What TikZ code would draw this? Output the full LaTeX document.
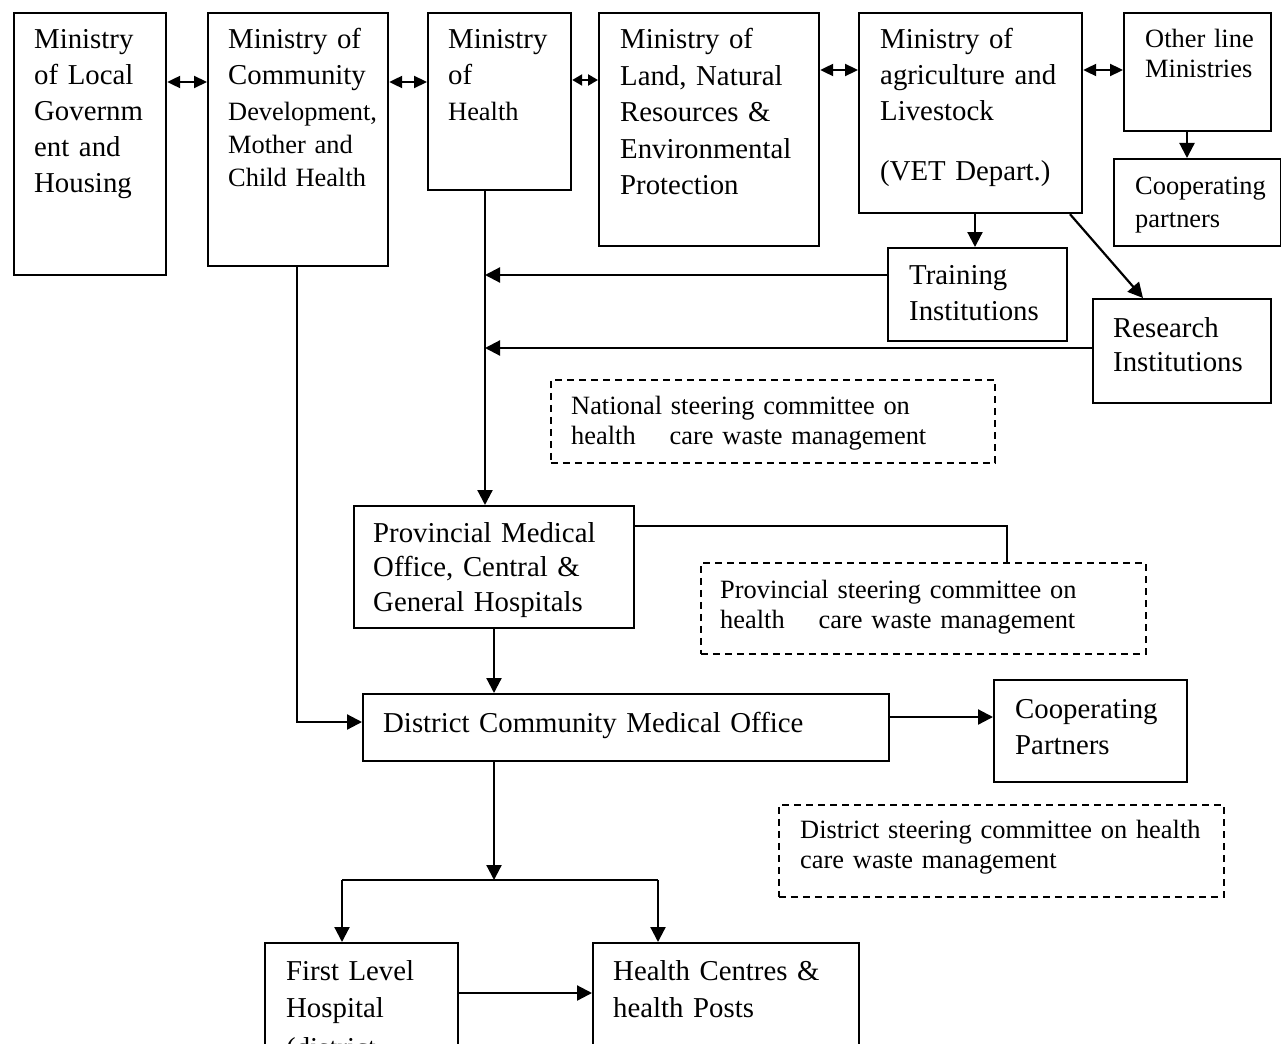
\documentclass[tikz,border=0pt]{standalone}
\usepackage{fontspec}
\setmainfont{Liberation Serif}
\usetikzlibrary{arrows.meta,calc}
\newcommand\fA{\fontsize{28.8pt}{36pt}\selectfont}
\newcommand\fB{\fontsize{26.4pt}{33pt}\selectfont}
\newcommand\fC{\fontsize{26.4pt}{30pt}\selectfont}
\newcommand\bx[5]{\node[boxst, minimum width=#4pt, minimum height=#5pt] (#1) at (#2,#3) {};}
\newcommand\dbx[5]{\node[dboxst, minimum width=#4pt, minimum height=#5pt] (#1) at (#2,#3) {};}
\begin{document}
\begin{tikzpicture}[x=1pt,y=-1pt,
  boxst/.style={draw, line width=2.2pt, inner sep=0pt, anchor=north west},
  dboxst/.style={draw, line width=1.6pt, dash pattern=on 7pt off 5pt, inner sep=0pt, anchor=north west},
  txt/.style={inner sep=0pt, anchor=base west, align=left, text width=#1},
  arr/.style={line width=2.2pt, -{Triangle[length=15pt,width=15pt]}},
  dbl/.style={line width=2.2pt, {Triangle[length=13pt,width=12pt]}-{Triangle[length=13pt,width=12pt]}},
  dbls/.style={line width=2.2pt, {Triangle[length=10pt,width=11pt]}-{Triangle[length=10pt,width=11pt]}},
  ln/.style={line width=2.2pt}]
\fill[white] (0,0) rectangle (1281,1043);
\useasboundingbox (0,0) rectangle (1281,1043);
\clip (0,0) rectangle (1281,1043);

% boxes
\bx{lg}{13}{12}{152}{262}
\bx{cd}{207}{12}{180}{253}
\bx{moh}{427}{12}{143}{177}
\bx{land}{598}{12}{220}{233}
\bx{agri}{858}{12}{223}{200}
\bx{oth}{1123}{12}{147}{118}
\bx{cpa}{1113}{158}{167}{87}
\bx{tr}{887}{247}{179}{93}
\bx{rs}{1092}{298}{178}{104}
\dbx{nat}{550}{379}{444}{83}
\bx{prov}{353}{505}{280}{122}
\dbx{pdash}{700}{562}{445}{91}
\bx{dist}{362}{693}{526}{67}
\bx{cpb}{993}{679}{193}{102}
\dbx{ddash}{778}{804}{445}{92}
\bx{fl}{264}{942}{193}{140}
\bx{hc}{592}{942}{266}{140}

% texts
\node[txt=140pt, font=\fA] (tlg) at (34,49) {Ministry\\of Local\\Governm\\ent and\\Housing};
\node[txt=170pt, font=\fA] (tcda) at (228,49) {Ministry of\\Community};
\node[txt=170pt, font=\fB] (tcdb) at (228,121) {Development,\\Mother and\\Child Health};
\node[txt=130pt, font=\fA] (tmoha) at (448,49) {Ministry\\of};
\node[txt=130pt, font=\fB] (tmohb) at (448,121) {Health};
\node[txt=210pt, font={\fontsize{28.8pt}{36.5pt}\selectfont}] (tland) at (620,49) {Ministry of\\Land, Natural\\Resources \&\\Environmental\\Protection};
\node[txt=210pt, font=\fA] (tagria) at (880,49) {Ministry of\\agriculture and\\Livestock};
\node[txt=210pt, font=\fA] (tagrib) at (880,180) {(VET Depart.)};
\node[txt=140pt, font=\fC] (toth) at (1145,48) {Other line\\Ministries};
\node[txt=150pt, font=\fB] (tcpa) at (1135,194) {Cooperating\\partners};
\node[txt=170pt, font=\fA] (ttr) at (909,284) {Training\\Institutions};
\node[txt=170pt, font={\fontsize{28.8pt}{34pt}\selectfont}] (trs) at (1113,337) {Research\\Institutions};
\node[txt=420pt, font=\fC] (tnat) at (571,414) {National steering committee on\\health\hspace{34pt}care waste management};
\node[txt=420pt, font=\fC] (tpd) at (720,598) {Provincial steering committee on\\health\hspace{34pt}care waste management};
\node[txt=430pt, font=\fC] (tdd) at (800,838) {District steering committee on health\\care waste management};
\node[txt=270pt, font={\fontsize{28.8pt}{34.7pt}\selectfont}] (tprov) at (373,542) {Provincial Medical\\Office, Central \&\\General Hospitals};
\node[txt=500pt, font=\fA] (tdist) at (383,732) {District Community Medical Office};
\node[txt=180pt, font=\fA] (tcpb) at (1015,718) {Cooperating\\Partners};
\node[txt=180pt, font={\fontsize{28.8pt}{37pt}\selectfont}] (tfl) at (286,980) {First Level\\Hospital\\[3pt](district};
\node[txt=250pt, font={\fontsize{28.8pt}{37pt}\selectfont}] (thc) at (613,980) {Health Centres \&\\health Posts};

% junction coordinates
\coordinate (jt) at (485,275);
\coordinate (jr) at (485,348);
\coordinate (jp) at (1007,526);
\coordinate (jd) at (494,880);
\coordinate (jl) at (342,880);
\coordinate (jh) at (658,880);

% connectors
\draw[dbl] (lg.east |- 0,82) -- (cd.west |- 0,82);
\draw[dbl] (cd.east |- 0,82) -- (moh.west |- 0,82);
\draw[dbls] (moh.east |- 0,80) -- (land.west |- 0,80);
\draw[dbl] (land.east |- 0,70) -- (agri.west |- 0,70);
\draw[dbl] (agri.east |- 0,70) -- (oth.west |- 0,70);
\draw[arr] (oth.south -| 1187,0) -- (cpa.north -| 1187,0);
\draw[arr] (agri.south -| 975,0) -- (tr.north -| 975,0);
\draw[arr] (agri.south -| 1070,0) -- (rs.north -| 1143,0);
\draw[arr] (moh.south -| 485,0) -- (prov.north -| 485,0);
\draw[arr] (tr.west |- jt) -- (jt);
\draw[arr] (rs.west |- jr) -- (jr);
\draw[ln] (prov.east |- jp) -- (jp) -- (pdash.north -| jp);
\draw[arr] (cd.south -| 297,0) |- (dist.west |- 0,722);
\draw[arr] (prov.south -| 494,0) -- (dist.north -| 494,0);
\draw[arr] (dist.south -| jd) -- (jd);
\draw[ln] (jl) -- (jh);
\draw[arr] (jl) -- (fl.north -| jl);
\draw[arr] (jh) -- (hc.north -| jh);
\draw[arr] (dist.east |- 0,717) -- (cpb.west |- 0,717);
\draw[arr] (fl.east |- 0,993) -- (hc.west |- 0,993);
\end{tikzpicture}
\end{document}
